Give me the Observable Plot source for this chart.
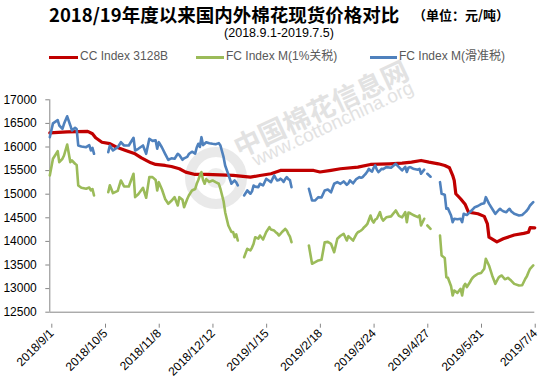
<!DOCTYPE html>
<html><head><meta charset="utf-8">
<script src="https://cdn.jsdelivr.net/npm/d3@7"></script>
<script src="https://cdn.jsdelivr.net/npm/@observablehq/plot@0.6"></script>
<style>
body{margin:0;background:#fff;}
#wrap{position:relative;width:550px;height:381px;overflow:hidden;font-family:"Liberation Sans",Arial,sans-serif;}
.abs{position:absolute;white-space:nowrap;line-height:1;}
#title{left:49px;top:1px;font:bold 18.5px "Noto Sans CJK SC",sans-serif;color:#000;}
#unit{left:413px;top:5px;font:bold 13px "Noto Sans CJK SC",sans-serif;color:#000;}
#sub{left:0;width:558px;text-align:center;top:27px;font-size:12.5px;color:#000;}
.lg{top:50px;font-size:12px;color:#595959;font-family:"Liberation Sans","Noto Sans CJK SC",sans-serif;}
.sw{position:absolute;height:3px;top:56px;}
.wm{color:#d6d6d6;opacity:.7;transform-origin:0 100%;transform:rotate(-25deg);}
#chart{position:absolute;left:0;top:70px;}
</style></head>
<body><div id="wrap">
<div class="abs wm" style="left:243px;top:126px;font:bold 27px 'Noto Sans CJK SC',sans-serif;">中国棉花信息网</div>
<div class="abs wm" style="left:258px;top:149px;font:19px 'Liberation Sans',sans-serif;">www.cottonchina.org</div>
<svg class="abs" style="left:183px;top:143px;opacity:.8" width="66" height="70"><circle cx="33" cy="35" r="26" fill="none" stroke="#e4e4e4" stroke-width="10"/><circle cx="33" cy="35" r="10" fill="#e8e8e8"/></svg>
<div id="title" class="abs">2018/19年度以来国内外棉花现货价格对比</div>
<div id="unit" class="abs">（单位：元/吨）</div>
<div id="sub" class="abs">(2018.9.1-2019.7.5)</div>
<div id="legend"></div>
<div id="chart"></div>
</div>
<script>
// ---- data ----
const seriesNames = ["CC Index 3128B", "FC Index M(1%关税)", "FC Index M(滑准税)"];
const seriesColors = ["#C00000", "#9BBB59", "#4F81BD"];
const yTicks = [12500, 13000, 13500, 14000, 14500, 15000, 15500, 16000, 16500, 17000];
const xTickDates = ["2018-09-01","2018-10-05","2018-11-08","2018-12-12","2019-01-15","2019-02-18","2019-03-24","2019-04-27","2019-05-31","2019-07-04"];
const xTickLabels = ["2018/9/1","2018/10/5","2018/11/8","2018/12/12","2019/1/15","2019/2/18","2019/3/24","2019/4/27","2019/5/31","2019/7/4"];

const ccIndex = [
["2018-09-01",16300],["2018-09-12",16320],["2018-09-25",16330],["2018-09-28",16280],["2018-09-30",16195],
["2018-10-04",16100],["2018-10-09",16070],["2018-10-13",16000],["2018-10-19",15925],["2018-10-25",15855],["2018-10-29",15770],
["2018-11-04",15665],["2018-11-07",15630],["2018-11-13",15609],["2018-11-17",15587],["2018-11-22",15539],["2018-11-26",15467],
["2018-12-02",15418],["2018-12-09",15418],["2018-12-26",15400],
["2019-01-06",15361],["2019-01-12",15397],["2019-01-19",15433],["2019-01-25",15503],
["2019-02-15",15503],["2019-02-19",15470],["2019-02-26",15505],
["2019-03-04",15539],["2019-03-15",15573],["2019-03-23",15630],
["2019-04-04",15644],["2019-04-12",15658],["2019-04-18",15679],["2019-04-24",15715],["2019-04-29",15679],
["2019-05-05",15644],["2019-05-09",15609],["2019-05-12",15560],["2019-05-14",15400],["2019-05-15",15290],["2019-05-16",15010],
["2019-05-19",14903],["2019-05-22",14780],["2019-05-24",14619],["2019-05-30",14585],
["2019-06-03",14530],["2019-06-05",14370],["2019-06-06",14089],["2019-06-11",13990],["2019-06-15",14055],["2019-06-22",14135],["2019-06-28",14170],
["2019-07-01",14195],["2019-07-02",14290],["2019-07-05",14288]
];

const fc1Pct = [
["2018-09-01",15397],["2018-09-03",15750],["2018-09-06",15911],["2018-09-07",15678],["2018-09-09",15750],["2018-09-10",15820],["2018-09-12",16053],["2018-09-14",15678],["2018-09-15",15714],["2018-09-17",15645],["2018-09-18",15620],["2018-09-19",15185],["2018-09-21",15136],["2018-09-24",15115],["2018-09-26",15140],["2018-09-27",15079],["2018-09-28",15110],["2018-09-29",14973],["2018-10-03",null],
["2018-10-08",15043],["2018-10-09",15190],["2018-10-11",15022],["2018-10-14",15070],["2018-10-16",15291],["2018-10-18",15164],["2018-10-21",15164],["2018-10-24",15433],["2018-10-25",14937],["2018-10-27",15000],["2018-10-30",15136],
["2018-11-01",14924],["2018-11-03",15361],["2018-11-05",15361],["2018-11-07",15300],["2018-11-08",15079],["2018-11-09",15255],["2018-11-11",15100],["2018-11-13",14900],["2018-11-15",14797],["2018-11-17",14860],["2018-11-19",14937],["2018-11-21",14761],["2018-11-22",14937],["2018-11-24",14880],["2018-11-25",14725],["2018-11-27",14900],["2018-11-28",14973],["2018-11-30",15079],
["2018-12-02",15110],["2018-12-03",15221],["2018-12-04",15300],["2018-12-05",15397],["2018-12-06",15467],["2018-12-07",15300],["2018-12-08",15221],["2018-12-09",15320],["2018-12-11",15260],["2018-12-13",15291],["2018-12-15",15255],["2018-12-17",15221],["2018-12-18",15115],["2018-12-20",14850],["2018-12-21",14619],["2018-12-23",14337],["2018-12-25",14200],["2018-12-26",14200],["2018-12-27",14089],["2018-12-28",14150],["2018-12-29",14019],["2018-12-31",null],
["2019-01-02",13665],["2019-01-04",13843],["2019-01-06",13810],["2019-01-07",13870],["2019-01-08",13950],["2019-01-09",14089],["2019-01-11",14060],["2019-01-12",14125],["2019-01-14",14040],["2019-01-16",14200],["2019-01-18",14301],["2019-01-19",14250],["2019-01-21",14230],["2019-01-22",14195],["2019-01-23",14170],["2019-01-24",14125],["2019-01-25",14160],["2019-01-26",14200],["2019-01-27",14230],["2019-01-28",14267],["2019-01-29",14230],["2019-01-30",14160],["2019-01-31",14100],["2019-02-01",13983],["2019-02-06",null],
["2019-02-12",13913],["2019-02-14",13526],["2019-02-16",13560],["2019-02-18",13596],["2019-02-20",13610],["2019-02-22",13983],["2019-02-24",13990],["2019-02-26",13950],["2019-02-28",13771],
["2019-03-02",14055],["2019-03-04",14120],["2019-03-06",14161],["2019-03-08",14020],["2019-03-09",14110],["2019-03-10",14080],["2019-03-12",14019],["2019-03-14",14150],["2019-03-15",14195],["2019-03-16",14210],["2019-03-17",14231],["2019-03-18",14260],["2019-03-19",14301],["2019-03-20",14330],["2019-03-21",14370],["2019-03-22",14460],["2019-03-23",14549],["2019-03-24",14450],["2019-03-25",14400],["2019-03-26",14460],["2019-03-27",14480],["2019-03-28",14550],["2019-03-29",14619],["2019-03-30",14500],["2019-03-31",14440],
["2019-04-02",14510],["2019-04-05",14530],["2019-04-08",14655],["2019-04-10",14540],["2019-04-12",14510],["2019-04-14",14620],["2019-04-15",14407],["2019-04-16",14610],["2019-04-17",14600],["2019-04-18",14580],["2019-04-19",14560],["2019-04-22",14513],["2019-04-23",14550],["2019-04-24",14337],["2019-04-26",14480],["2019-04-27",null],["2019-04-28",14337],["2019-04-30",14267],["2019-05-03",null],
["2019-05-06",14125],["2019-05-07",13701],["2019-05-09",13650],["2019-05-10",13242],["2019-05-11",13230],["2019-05-13",13050],["2019-05-14",12854],["2019-05-15",12960],["2019-05-17",12910],["2019-05-19",12996],["2019-05-20",12854],["2019-05-21",13050],["2019-05-22",13102],["2019-05-23",13030],["2019-05-25",13140],["2019-05-26",13200],["2019-05-27",13242],["2019-05-28",13270],["2019-05-30",13314],
["2019-06-01",13330],["2019-06-03",13420],["2019-06-04",13631],["2019-06-06",13490],["2019-06-08",13278],["2019-06-10",13102],["2019-06-12",13230],["2019-06-13",13260],["2019-06-14",13278],["2019-06-15",13240],["2019-06-16",13200],["2019-06-17",13210],["2019-06-18",13230],["2019-06-19",13200],["2019-06-20",13170],["2019-06-22",13100],["2019-06-25",13066],["2019-06-27",13070],["2019-06-29",13208],["2019-06-30",13260],
["2019-07-01",13348],["2019-07-02",13420],["2019-07-04",13490]
];

const fcSliding = [
["2018-09-01",16208],["2018-09-03",16500],["2018-09-06",16570],["2018-09-07",16456],["2018-09-09",16386],["2018-09-10",16492],["2018-09-12",16650],["2018-09-14",16456],["2018-09-15",16350],["2018-09-17",16407],["2018-09-18",16380],["2018-09-19",16032],["2018-09-21",16011],["2018-09-24",15996],["2018-09-26",16040],["2018-09-27",15926],["2018-09-28",15980],["2018-09-29",15856],["2018-10-03",null],
["2018-10-08",15890],["2018-10-09",16032],["2018-10-11",15926],["2018-10-14",15996],["2018-10-16",16102],["2018-10-18",16032],["2018-10-21",16032],["2018-10-24",16196],["2018-10-25",15926],["2018-10-27",15962],["2018-10-30",16032],
["2018-11-01",15856],["2018-11-03",16174],["2018-11-05",16130],["2018-11-07",16140],["2018-11-08",15962],["2018-11-09",16102],["2018-11-11",15990],["2018-11-13",15856],["2018-11-15",15729],["2018-11-17",15760],["2018-11-19",15750],["2018-11-21",15856],["2018-11-22",15830],["2018-11-24",15729],["2018-11-25",15760],["2018-11-27",15790],["2018-11-28",15850],["2018-11-30",15900],
["2018-12-02",15860],["2018-12-03",15990],["2018-12-04",16068],["2018-12-05",16000],["2018-12-06",16208],["2018-12-07",16040],["2018-12-08",16070],["2018-12-09",16102],["2018-12-11",16080],["2018-12-13",16068],["2018-12-15",16060],["2018-12-17",16082],["2018-12-18",16032],["2018-12-20",15784],["2018-12-21",15609],["2018-12-23",15420],["2018-12-25",15221],["2018-12-26",15260],["2018-12-27",15291],["2018-12-28",15250],["2018-12-29",15185],["2018-12-31",null],
["2019-01-02",14973],["2019-01-04",15079],["2019-01-06",15010],["2019-01-07",15060],["2019-01-08",15185],["2019-01-09",15160],["2019-01-11",15150],["2019-01-12",15221],["2019-01-14",15185],["2019-01-16",15327],["2019-01-18",15280],["2019-01-19",15255],["2019-01-21",15397],["2019-01-22",15340],["2019-01-23",15291],["2019-01-24",15300],["2019-01-25",15330],["2019-01-26",15300],["2019-01-27",15260],["2019-01-28",15320],["2019-01-29",15361],["2019-01-30",15320],["2019-01-31",15300],["2019-02-01",15149],["2019-02-06",null],
["2019-02-12",15115],["2019-02-14",14867],["2019-02-16",14870],["2019-02-18",14937],["2019-02-20",14930],["2019-02-22",15079],["2019-02-24",15100],["2019-02-26",15040],["2019-02-28",15221],
["2019-03-02",15255],["2019-03-04",15220],["2019-03-06",15270],["2019-03-08",15200],["2019-03-09",15230],["2019-03-10",15291],["2019-03-12",15230],["2019-03-14",15320],["2019-03-15",15340],["2019-03-16",15361],["2019-03-17",15350],["2019-03-18",15360],["2019-03-19",15400],["2019-03-20",15433],["2019-03-21",15480],["2019-03-22",15539],["2019-03-23",15500],["2019-03-24",15480],["2019-03-25",15560],["2019-03-26",15609],["2019-03-27",15520],["2019-03-28",15467],["2019-03-29",15500],["2019-03-30",15540],["2019-03-31",15530],
["2019-04-02",15573],["2019-04-05",15560],["2019-04-08",15644],["2019-04-10",15573],["2019-04-12",15503],["2019-04-14",15580],["2019-04-15",15470],["2019-04-16",15560],["2019-04-17",15573],["2019-04-18",15560],["2019-04-19",15540],["2019-04-22",15520],["2019-04-23",15539],["2019-04-24",15433],["2019-04-26",15520],["2019-04-27",null],["2019-04-28",15433],["2019-04-30",15370],["2019-05-03",null],
["2019-05-06",15255],["2019-05-07",15009],["2019-05-09",14990],["2019-05-10",14691],["2019-05-11",14700],["2019-05-13",14550],["2019-05-14",14407],["2019-05-15",14480],["2019-05-17",14470],["2019-05-19",14480],["2019-05-20",14407],["2019-05-21",14585],["2019-05-22",14570],["2019-05-23",14560],["2019-05-25",14620],["2019-05-26",14655],["2019-05-27",14690],["2019-05-28",14725],["2019-05-30",14750],
["2019-06-01",14790],["2019-06-03",14810],["2019-06-04",14937],["2019-06-06",14800],["2019-06-08",14691],["2019-06-10",14585],["2019-06-12",14660],["2019-06-13",14691],["2019-06-14",14660],["2019-06-15",14640],["2019-06-16",14630],["2019-06-17",14619],["2019-06-18",14660],["2019-06-19",14690],["2019-06-20",14640],["2019-06-22",14585],["2019-06-25",14549],["2019-06-27",14560],["2019-06-29",14620],["2019-06-30",14655],
["2019-07-01",14700],["2019-07-02",14761],["2019-07-04",14831]
];

// ---- build ----
const toRows = arr => arr.map(([d, v]) => ({date: new Date(d + "T00:00:00Z"), value: v == null ? NaN : v}));
const tickDates = xTickDates.map(d => new Date(d + "T00:00:00Z"));
const labelMap = new Map(tickDates.map((d, i) => [+d, xTickLabels[i]]));
const x0 = new Date("2018-09-01T00:00:00Z");
const x1 = new Date("2019-07-05T00:00:00Z");

// legend
const legend = document.getElementById("legend");
const lgPos = [[49, 80], [196, 226], [370, 399]];
seriesNames.forEach((name, i) => {
  const sw = document.createElement("div");
  sw.className = "sw";
  sw.style.left = lgPos[i][0] + "px";
  sw.style.width = (lgPos[i][1] - lgPos[i][0] - 2) + "px";
  sw.style.background = seriesColors[i];
  legend.appendChild(sw);
  const t = document.createElement("div");
  t.className = "abs lg";
  t.style.left = lgPos[i][1] + "px";
  t.textContent = name;
  legend.appendChild(t);
});

const chart = Plot.plot({
  width: 550,
  height: 311,
  marginTop: 29.3,
  marginBottom: 69.3,
  marginLeft: 49.3,
  marginRight: 15.7,
  style: {background: "transparent", fontSize: "12px", fontFamily: "'Liberation Sans', Arial, sans-serif", overflow: "visible"},
  x: {type: "utc", domain: [x0, x1]},
  y: {domain: [12500, 17000]},
  marks: [
    Plot.axisY({ticks: yTicks, tickSize: 4, tickPadding: 9, tickFormat: d3.format("d"), stroke: "#868686", fill: "#000", label: null, fontSize: 12}),
    Plot.axisX({ticks: tickDates, tickSize: 4, tickPadding: 3, tickRotate: -45, tickFormat: d => labelMap.get(+d), stroke: "#868686", fill: "#000", label: null, fontSize: 12, dx: 2, dy: 12}),
    Plot.ruleY([12500], {stroke: "#868686", strokeWidth: 1}),
    Plot.ruleX([x0], {stroke: "#868686", strokeWidth: 1}),
    Plot.line(toRows(ccIndex), {x: "date", y: "value", stroke: seriesColors[0], strokeWidth: 3.2, strokeLinejoin: "round", strokeLinecap: "round"}),
    Plot.line(toRows(fc1Pct), {x: "date", y: "value", stroke: seriesColors[1], strokeWidth: 2.6, strokeLinejoin: "round", strokeLinecap: "round"}),
    Plot.line(toRows(fcSliding), {x: "date", y: "value", stroke: seriesColors[2], strokeWidth: 2.6, strokeLinejoin: "round", strokeLinecap: "round"})
  ]
});
document.getElementById("chart").appendChild(chart);
</script>
</body></html>
